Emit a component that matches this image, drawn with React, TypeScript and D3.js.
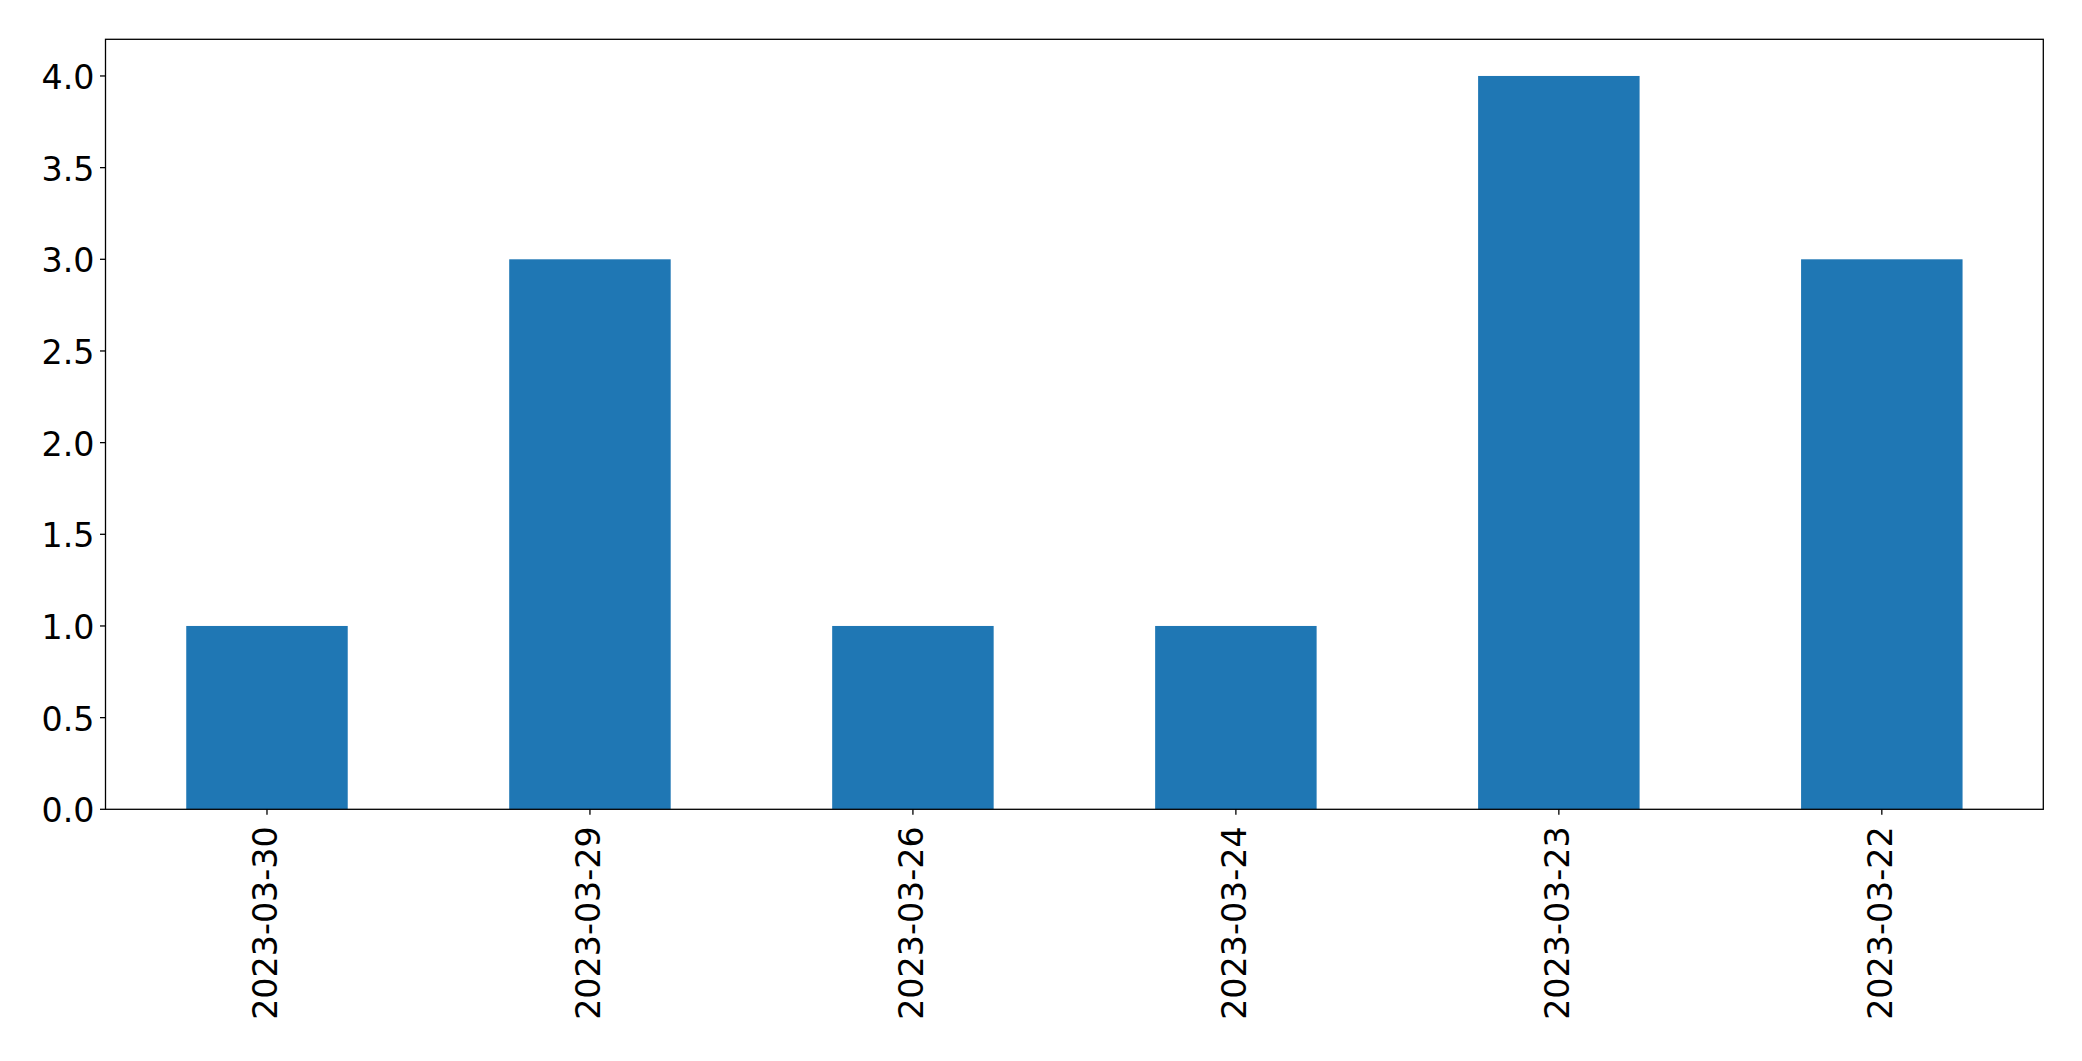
import React from "react";
import * as d3 from "d3";

const categories = ["2023-03-30", "2023-03-29", "2023-03-26", "2023-03-24", "2023-03-23", "2023-03-22"];
const values = [1, 3, 1, 1, 4, 3];
const yTicks = [0, 0.5, 1, 1.5, 2, 2.5, 3, 3.5, 4];

const W = 2082;
const H = 1061;
const left = 105.5;
const right = 2043.3;
const top = 39.3;
const bottom = 809.3;
const font = "'DejaVu Sans', sans-serif";
const fs = 33.3;

export default function App() {
  const x = d3.scaleBand<string>().domain(categories).range([left, right]).paddingInner(0.5).paddingOuter(0.25);
  const y = d3.scaleLinear().domain([0, 4.2]).range([bottom, top]);
  return (
    <svg width={W} height={H} style={{ position: "absolute", left: 0, top: 0 }}>
      <rect x={0} y={0} width={W} height={H} fill="white" />
      {categories.map((c, i) => (
        <rect key={c} x={x(c)!} y={y(values[i])} width={x.bandwidth()} height={y(0) - y(values[i])} fill="#1f77b4" />
      ))}
      <rect x={left} y={top} width={right - left} height={bottom - top} fill="none" stroke="black" strokeWidth={1.3} />
      {yTicks.map((t) => (
        <g key={t}>
          <line x1={left - 5.5} x2={left} y1={y(t)} y2={y(t)} stroke="black" strokeWidth={1.3} />
          <text x={left - 11} y={y(t) + 1.5} textAnchor="end" dominantBaseline="central" fontFamily={font} fontSize={fs} fill="black">
            {t.toFixed(1)}
          </text>
        </g>
      ))}
      {categories.map((c) => {
        const cx = x(c)! + x.bandwidth() / 2;
        return (
          <g key={c}>
            <line x1={cx} x2={cx} y1={bottom} y2={bottom + 5.5} stroke="black" strokeWidth={1.3} />
            <text
              transform={`translate(${cx - 1.5},${bottom + 17}) rotate(-90)`}
              textAnchor="end"
              dominantBaseline="central"
              fontFamily={font}
              fontSize={fs}
              fill="black"
            >
              {c}
            </text>
          </g>
        );
      })}
    </svg>
  );
}
